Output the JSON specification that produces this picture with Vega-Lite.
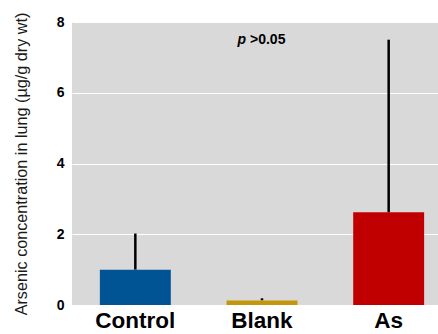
{
  "$schema": "https://vega.github.io/schema/vega-lite/v6.json",
  "width": 380,
  "height": 283,
  "autosize": {"type": "none"},
  "padding": {"left": 72, "top": 22, "right": 0, "bottom": 29},
  "background": "white",
  "config": {
    "font": "Liberation Sans",
    "view": {"fill": "#d9d9d9", "stroke": null}
  },
  "data": {
    "values": [
      {"group": "Control", "mean": 1.0, "upper": 2.02, "color": "Control"},
      {"group": "Blank", "mean": 0.13, "upper": 0.19, "color": "Blank"},
      {"group": "As", "mean": 2.62, "upper": 7.5, "color": "As"}
    ]
  },
  "encoding": {
    "x": {
      "field": "group",
      "type": "nominal",
      "sort": ["Control", "Blank", "As"],
      "scale": {"paddingInner": 0.44, "paddingOuter": 0.22},
      "axis": {
        "title": null,
        "labelAngle": 0,
        "labelFontSize": 22.5,
        "labelFontWeight": "bold",
        "labelColor": "#000000",
        "labelPadding": 4,
        "ticks": false,
        "domain": false
      }
    }
  },
  "layer": [
    {
      "mark": {"type": "rule", "color": "#000000", "strokeWidth": 2.5},
      "encoding": {
        "y": {"field": "mean", "type": "quantitative"},
        "y2": {"field": "upper"}
      }
    },
    {
      "mark": {"type": "bar"},
      "encoding": {
        "y": {
          "field": "mean",
          "type": "quantitative",
          "scale": {"domain": [0, 8]},
          "axis": {
            "title": "Arsenic concentration in lung (µg/g dry wt)",
            "titleFontSize": 16.2,
            "titleFontWeight": "normal",
            "titleColor": "#1a1a1a",
            "titlePadding": 27,
            "values": [0, 2, 4, 6, 8],
            "labelFontSize": 14,
            "labelFontWeight": "bold",
            "labelColor": "#000000",
            "labelPadding": 8,
            "ticks": false,
            "domain": false,
            "grid": true,
            "gridColor": "#ffffff",
            "gridWidth": 1
          }
        },
        "color": {
          "field": "color",
          "type": "nominal",
          "scale": {"domain": ["Control", "Blank", "As"], "range": ["#005493", "#c4960c", "#c00000"]},
          "legend": null
        }
      }
    },
    {
      "data": {"values": [{"group": "Blank", "y": 7.5, "label": "p"}]},
      "mark": {"type": "text", "fontStyle": "italic", "fontWeight": "bold", "fontSize": 14, "align": "right", "dx": -16, "color": "#000000"},
      "encoding": {
        "y": {"field": "y", "type": "quantitative"},
        "text": {"field": "label"}
      }
    },
    {
      "data": {"values": [{"group": "Blank", "y": 7.5, "label": ">0.05"}]},
      "mark": {"type": "text", "fontWeight": "bold", "fontSize": 14, "align": "left", "dx": -12, "color": "#000000"},
      "encoding": {
        "y": {"field": "y", "type": "quantitative"},
        "text": {"field": "label"}
      }
    }
  ]
}
